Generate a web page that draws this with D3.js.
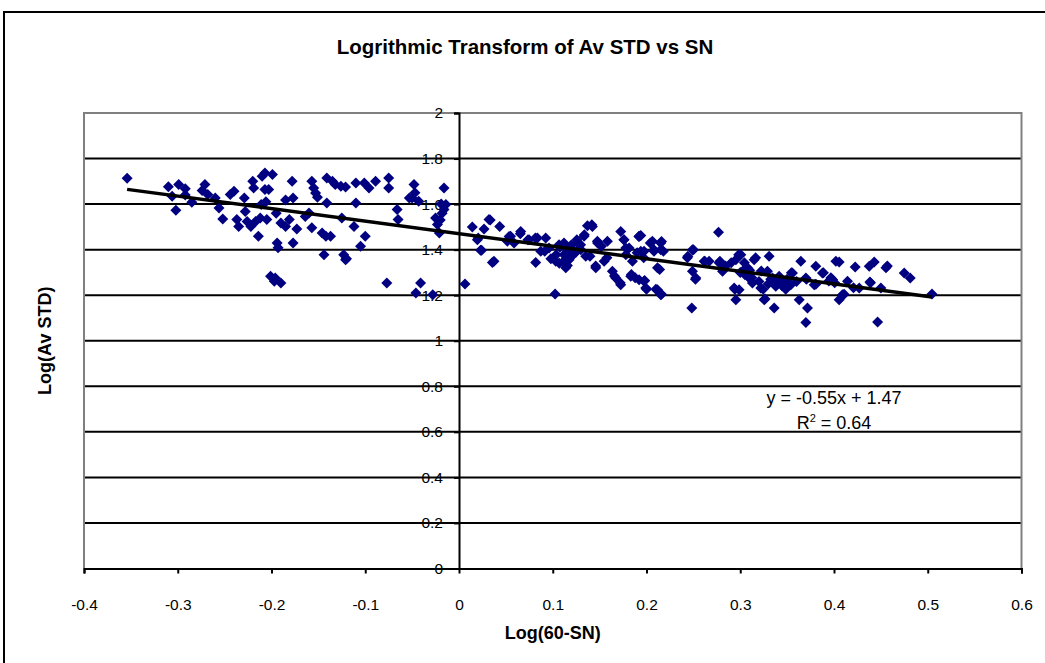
<!DOCTYPE html>
<html>
<head>
<meta charset="utf-8">
<script src="https://cdn.jsdelivr.net/npm/d3@7"></script>
<style>
  html, body { margin: 0; padding: 0; background: #fff; }
  svg { display: block; }
  text { font-family: "Liberation Sans", Arial, sans-serif; fill: #000; }
</style>
</head>
<body>
<div id="chart"></div>
<script>
// ---------------- data ----------------
const chartTitle = "Logrithmic Transform of Av STD vs SN";
const xTitle = "Log(60-SN)";
const yTitle = "Log(Av STD)";
const xTicks = [-0.4, -0.3, -0.2, -0.1, 0, 0.1, 0.2, 0.3, 0.4, 0.5, 0.6];
const yTicks = [0, 0.2, 0.4, 0.6, 0.8, 1, 1.2, 1.4, 1.6, 1.8, 2];
const trendSlope = -0.55;
const trendIntercept = 1.47;
const trendLabel = "y = -0.55x + 1.47";
const r2Value = "0.64";

// Log(60-SN) values
const logSN = [
  -0.354,-0.310,-0.306,-0.302,-0.299,-0.292,-0.292,-0.285,-0.271,-0.274,-0.268,-0.260,-0.256,-0.252,-0.244,-0.240,
  -0.237,-0.235,-0.229,-0.228,-0.226,-0.222,-0.220,-0.219,-0.217,-0.214,-0.212,-0.211,-0.210,-0.207,-0.207,-0.206,
  -0.205,-0.201,-0.197,-0.194,-0.193,-0.190,-0.195,-0.190,-0.185,-0.185,-0.177,-0.178,-0.181,-0.177,-0.173,-0.164,
  -0.160,-0.157,-0.155,-0.153,-0.157,-0.151,-0.146,-0.144,-0.142,-0.141,-0.141,-0.137,-0.135,-0.132,-0.126,-0.125,
  -0.123,-0.121,-0.120,-0.121,-0.112,-0.110,-0.110,-0.105,-0.100,-0.101,-0.096,-0.089,-0.077,-0.075,-0.075,-0.066,
  -0.065,-0.048,-0.050,-0.046,-0.041,-0.047,-0.043,-0.028,-0.025,-0.023,-0.021,-0.016,-0.016,-0.014,-0.199,-0.203,
  -0.196,-0.053,-0.018,-0.020,-0.019,
  0.0064,0.0142,0.0267,0.032,0.023,0.0196,0.0356,0.0434,0.0516,0.055,0.0658,0.0587,0.0747,0.0836,0.0818,0.0925,
  0.0872,0.096,0.1025,0.1032,0.1067,0.112,0.1139,0.1174,0.112,0.121,0.1263,0.1334,0.137,0.1423,0.1352,0.1459,
  0.1476,0.1583,0.1548,0.1636,0.1672,0.1725,0.1725,0.176,0.1814,0.1832,0.178,0.1921,0.190,0.197,0.198,0.185,
  0.0534,0.0654,0.0735,0.0815,0.0915,0.1036,0.1076,0.1116,0.1156,0.1176,0.1197,0.1257,0.1297,0.1337,0.1417,0.1397,
  0.1458,0.1478,0.1518,0.1578,0.1658,0.1719,0.1759,0.1779,0.1839,0.1879,0.1919,0.1939,0.200,0.204,0.208,0.210,
  0.214,0.216,0.216,0.218,0.0373,0.0205,0.0333,0.0241,0.098,0.107,0.120,0.125,0.130,0.115,
  0.1939,0.1974,0.2063,0.2152,0.2152,0.208,0.2117,0.1974,0.1992,0.2117,0.2152,0.1921,0.2768,0.249,0.2436,0.249,
  0.2526,0.2483,0.2615,0.2668,0.2775,0.2811,0.283,0.2953,0.3006,0.2935,0.2988,0.2953,0.3024,0.3077,0.3148,0.3095,
  0.313,0.3219,0.3255,0.3308,0.329,0.3344,0.3362,0.3379,0.3415,0.3486,0.3539,0.3557,0.3629,0.3646,0.37,0.3717,
  0.37,0.3789,0.3806,0.3877,0.3984,0.402,
  0.2441,0.2501,0.2522,0.2622,0.2783,0.2843,0.2903,0.2943,0.2983,0.3044,0.3124,0.3164,0.3224,0.3244,0.3264,0.3325,
  0.3405,0.3445,0.3485,0.3525,0.3545,0.3706,0.3806,0.3887,0.3967,0.300,0.305,0.310,0.320,0.330,0.335,0.345,0.350,0.360,
  0.4055,0.4226,0.4376,0.4429,0.4554,0.4749,0.4813,0.3984,0.4144,0.4269,0.4383,0.4500,0.4055,0.409,0.4465,0.5045,
  0.4007,0.4108,0.4208,0.4389,0.4569,0.3945
];
// Log(Av STD) values
const logSTD = [
  1.714,1.676,1.634,1.573,1.686,1.667,1.640,1.608,1.686,1.660,1.642,1.627,1.583,1.535,1.642,1.656,
  1.532,1.502,1.627,1.568,1.524,1.502,1.700,1.671,1.524,1.459,1.539,1.598,1.722,1.737,1.664,1.610,
  1.532,1.283,1.261,1.429,1.408,1.254,1.560,1.517,1.502,1.618,1.627,1.700,1.532,1.429,1.491,1.546,
  1.561,1.700,1.671,1.649,1.496,1.630,1.473,1.378,1.459,1.605,1.715,1.459,1.700,1.686,1.678,1.539,
  1.378,1.356,1.360,1.675,1.502,1.605,1.693,1.415,1.459,1.693,1.671,1.700,1.254,1.715,1.671,1.576,
  1.532,1.686,1.627,1.210,1.254,1.650,1.612,1.202,1.539,1.510,1.473,1.671,1.576,1.598,1.730,1.664,
  1.276,1.627,1.560,1.530,1.600,
  1.249,1.500,1.491,1.532,1.397,1.444,1.344,1.502,1.437,1.459,1.480,1.429,1.444,1.451,1.344,1.451,
  1.393,1.407,1.205,1.349,1.422,1.378,1.320,1.356,1.429,1.400,1.429,1.459,1.505,1.502,1.371,1.320,
  1.437,1.437,1.349,1.305,1.276,1.246,1.480,1.444,1.407,1.283,1.378,1.459,1.386,1.364,1.264,1.349,
  1.458,1.470,1.444,1.451,1.393,1.378,1.410,1.349,1.330,1.386,1.420,1.444,1.422,1.465,1.509,1.371,
  1.328,1.429,1.415,1.364,1.284,1.255,1.444,1.407,1.291,1.277,1.458,1.393,1.226,1.429,1.400,1.226,
  1.313,1.436,1.204,1.393,1.349,1.451,1.530,1.397,1.360,1.340,1.370,1.390,1.400,1.405,
  1.462,1.393,1.437,1.429,1.400,1.393,1.320,1.261,1.232,1.224,1.202,1.268,1.476,1.400,1.364,1.305,
  1.276,1.144,1.349,1.349,1.342,1.305,1.320,1.356,1.378,1.232,1.224,1.180,1.305,1.320,1.356,1.276,
  1.254,1.232,1.180,1.371,1.305,1.276,1.144,1.239,1.283,1.239,1.246,1.298,1.180,1.349,1.276,1.144,
  1.080,1.246,1.327,1.298,1.268,1.349,
  1.371,1.400,1.270,1.349,1.349,1.328,1.342,1.226,1.378,1.342,1.277,1.364,1.306,1.226,1.183,1.270,
  1.270,1.241,1.226,1.248,1.299,1.270,1.248,1.299,1.277,1.300,1.290,1.310,1.260,1.250,1.260,1.260,1.270,1.260,
  1.346,1.324,1.327,1.346,1.320,1.298,1.276,1.268,1.261,1.232,1.258,1.232,1.180,1.202,1.082,1.205,
  1.255,1.204,1.233,1.255,1.328,1.262
];

// ---------------- chart ----------------
const W = 1045, H = 663;
const plot = { left: 84, right: 1021.5, top: 113, bottom: 568.5 };
const font = '"Liberation Sans", Arial, sans-serif';

const svg = d3.select("#chart").append("svg").attr("width", W).attr("height", H);

const x = d3.scaleLinear().domain([-0.4, 0.6]).range([plot.left, plot.right]);
const y = d3.scaleLinear().domain([0, 2]).range([plot.bottom, plot.top]);

// outer chart frame (right/bottom edges off canvas)
svg.append("path")
  .attr("d", `M4,${H + 5} L4,12 L${W + 5},12`)
  .attr("fill", "none").attr("stroke", "#000").attr("stroke-width", 2);

// gridlines
svg.append("g").selectAll("line")
  .data(yTicks.filter(v => v > 0 && v < 2))
  .join("line")
  .attr("x1", plot.left).attr("x2", plot.right)
  .attr("y1", d => y(d)).attr("y2", d => y(d))
  .attr("stroke", "#000").attr("stroke-width", 2);

// plot area border (grey)
svg.append("path")
  .attr("d", `M${plot.left},${plot.bottom} L${plot.left},${plot.top} L${plot.right},${plot.top} L${plot.right},${plot.bottom}`)
  .attr("fill", "none").attr("stroke", "#808080").attr("stroke-width", 2);

const fmt = d => String(+d.toFixed(1));

// y axis at x = 0
const yAxis = svg.append("g")
  .attr("transform", `translate(${x(0)},0)`)
  .call(d3.axisLeft(y).tickValues(yTicks).tickFormat(fmt).tickSize(5).tickPadding(11));
yAxis.select(".domain").attr("stroke", "#000").attr("stroke-width", 2);
yAxis.selectAll(".tick line").attr("stroke", "#000").attr("stroke-width", 2);
yAxis.selectAll(".tick text").attr("font-family", font).attr("font-size", 15.5).attr("fill", "#000");

// x axis at y = 0
const xAxis = svg.append("g")
  .attr("transform", `translate(0,${y(0)})`)
  .call(d3.axisBottom(x).tickValues(xTicks).tickFormat(fmt).tickSize(5).tickPadding(25));
xAxis.select(".domain").attr("stroke", "#000").attr("stroke-width", 2);
xAxis.selectAll(".tick line").attr("stroke", "#000").attr("stroke-width", 2);
xAxis.selectAll(".tick text").attr("font-family", font).attr("font-size", 15.5).attr("fill", "#000");

// points (diamonds)
const pts = logSN.map((v, i) => [v, logSTD[i]]);
const r = 5.5;
svg.append("g").selectAll("path")
  .data(pts)
  .join("path")
  .attr("d", d => {
    const cx = x(d[0]), cy = y(d[1]);
    return `M${cx},${cy - r}L${cx + r},${cy}L${cx},${cy + r}L${cx - r},${cy}Z`;
  })
  .attr("fill", "#000080");

// trend line
const xMin = d3.min(logSN), xMax = d3.max(logSN);
svg.append("line")
  .attr("x1", x(xMin)).attr("y1", y(trendSlope * xMin + trendIntercept))
  .attr("x2", x(xMax)).attr("y2", y(trendSlope * xMax + trendIntercept))
  .attr("stroke", "#000").attr("stroke-width", 3.5);

// trend equation
svg.append("text")
  .attr("x", 834).attr("y", 404)
  .attr("text-anchor", "middle").attr("font-size", 18)
  .text(trendLabel);
const r2 = svg.append("text")
  .attr("x", 834).attr("y", 429)
  .attr("text-anchor", "middle").attr("font-size", 18);
r2.append("tspan").text("R");
r2.append("tspan").attr("font-size", 11).attr("dy", -7).text("2");
r2.append("tspan").attr("dy", 7).text(" = " + r2Value);

// titles
svg.append("text")
  .attr("x", 525).attr("y", 54)
  .attr("text-anchor", "middle").attr("font-size", 20.5).attr("font-weight", "bold")
  .text(chartTitle);
svg.append("text")
  .attr("x", (plot.left + plot.right) / 2).attr("y", 639)
  .attr("text-anchor", "middle").attr("font-size", 18).attr("font-weight", "bold")
  .text(xTitle);
svg.append("text")
  .attr("transform", `translate(51,${(plot.top + plot.bottom) / 2}) rotate(-90)`)
  .attr("text-anchor", "middle").attr("font-size", 18).attr("font-weight", "bold")
  .text(yTitle);
</script>
</body>
</html>
